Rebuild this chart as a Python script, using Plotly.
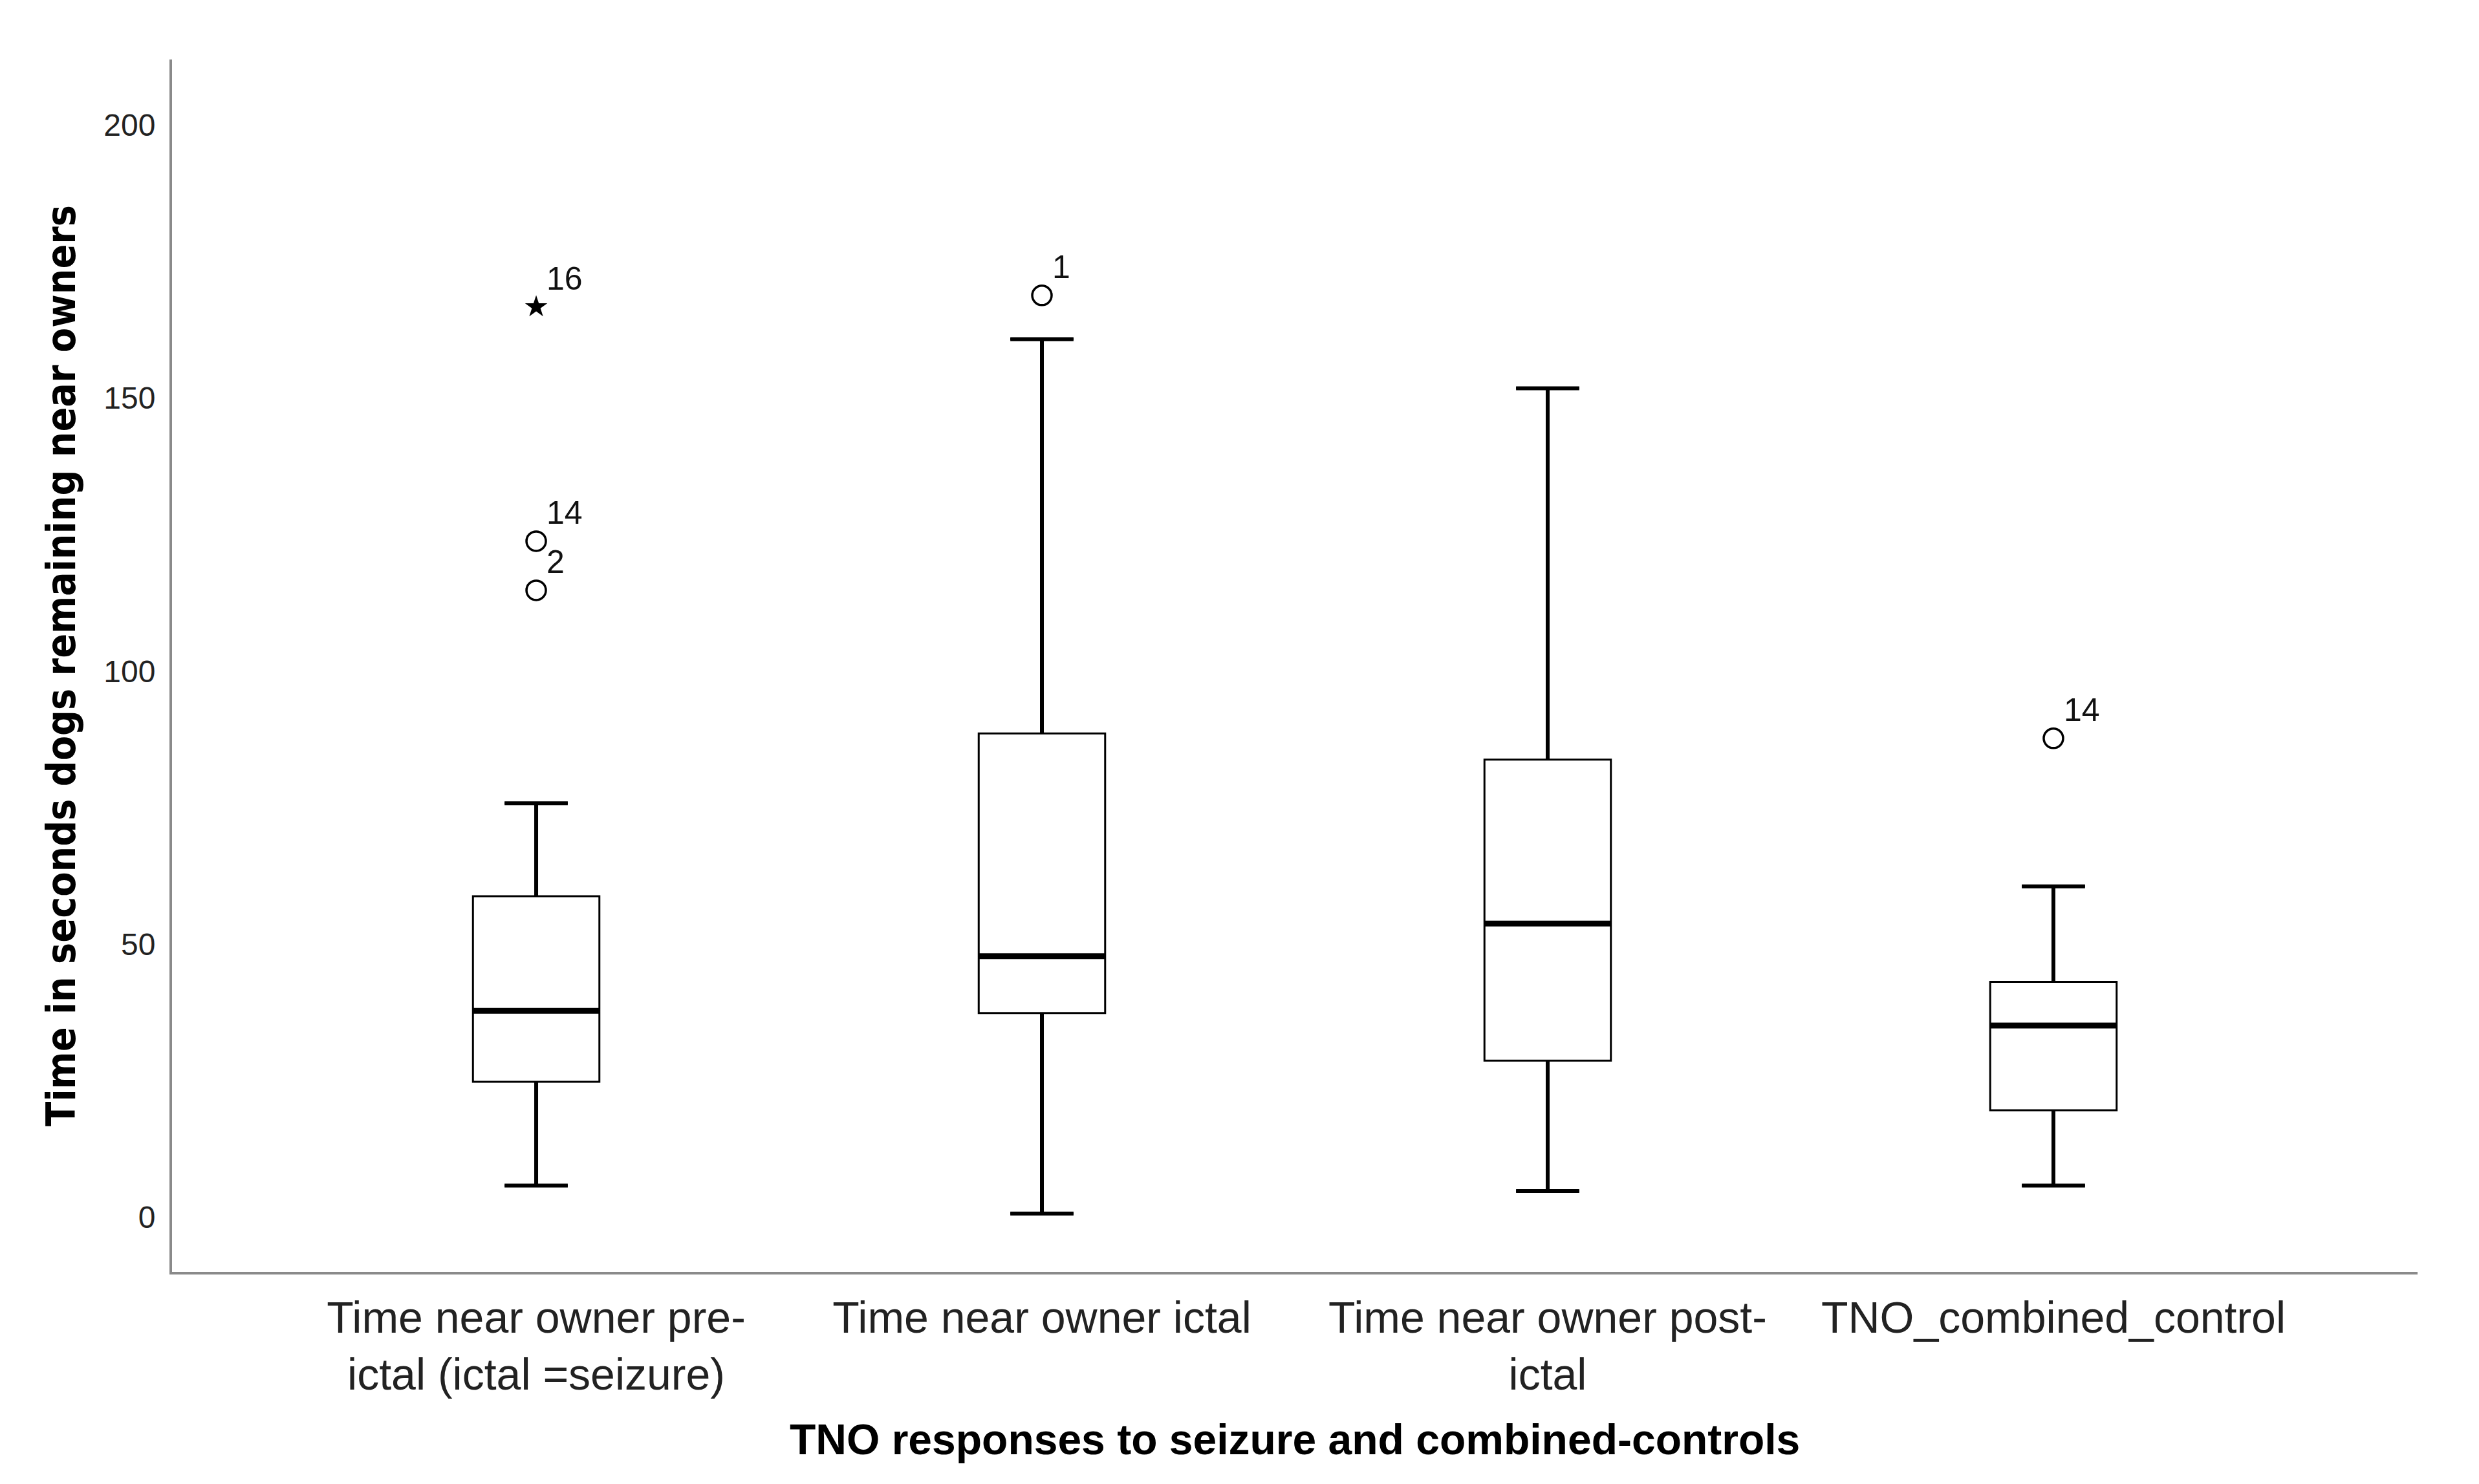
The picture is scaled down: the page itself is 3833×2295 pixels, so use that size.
import plotly.graph_objects as go

# Summary values (seconds)
categories = ['Time near owner pre-<br>ictal (ictal =seizure)',
              'Time near owner ictal',
              'Time near owner post-<br>ictal',
              'TNO_combined_control']
lower_whisker = [5.8, 0.7, 4.8, 5.8]
q1 = [24.8, 37.4, 28.7, 19.6]
median = [37.8, 47.8, 53.8, 35.1]
q3 = [58.8, 88.6, 83.8, 43.1]
upper_whisker = [75.8, 160.8, 151.8, 60.6]

# outliers: (category index, value, case label)
outlier_cat = [0, 0, 1, 3]
outlier_val = [123.8, 114.8, 168.8, 87.7]
outlier_lab = ['14', '2', '1', '14']

# extreme values (SPSS star)
extreme_cat = [0]
extreme_val = [166.7]
extreme_lab = ['16']

y_ticks = [0, 50, 100, 150, 200]

box_w = 0.25
cap_w = 0.125
xs = list(range(len(categories)))

fig = go.Figure()

fig.add_trace(go.Box(
    x=xs, q1=q1, median=median, q3=q3,
    lowerfence=lower_whisker, upperfence=upper_whisker,
    width=box_w, whiskerwidth=0.5,
    fillcolor='white', line=dict(color='black', width=3),
    boxpoints=False, showlegend=False, hoverinfo='skip'))

# thicker whiskers and caps
wx, wy = [], []
for i in xs:
    wx += [i, i, None, i - cap_w / 2, i + cap_w / 2, None,
           i, i, None, i - cap_w / 2, i + cap_w / 2, None]
    wy += [q3[i], upper_whisker[i], None, upper_whisker[i], upper_whisker[i], None,
           q1[i], lower_whisker[i], None, lower_whisker[i], lower_whisker[i], None]
fig.add_trace(go.Scatter(x=wx, y=wy, mode='lines',
                         line=dict(color='black', width=6),
                         showlegend=False, hoverinfo='skip'))

# thick median lines
mx, my = [], []
for i in xs:
    mx += [i - box_w / 2, i + box_w / 2, None]
    my += [median[i], median[i], None]
fig.add_trace(go.Scatter(x=mx, y=my, mode='lines',
                         line=dict(color='black', width=9),
                         showlegend=False, hoverinfo='skip'))

fig.add_trace(go.Scatter(x=outlier_cat, y=outlier_val, mode='markers',
                         marker=dict(symbol='circle-open', size=30,
                                     color='black', line=dict(width=3.5)),
                         showlegend=False, hoverinfo='skip'))
fig.add_trace(go.Scatter(x=extreme_cat, y=extreme_val, mode='markers',
                         marker=dict(symbol='star', size=26, color='black'),
                         showlegend=False, hoverinfo='skip'))

for cx, cy, lab in zip(outlier_cat + extreme_cat, outlier_val + extreme_val,
                       outlier_lab + extreme_lab):
    fig.add_annotation(x=cx, y=cy, text=lab, showarrow=False,
                       xanchor='left', yanchor='middle', xshift=14, yshift=44,
                       font=dict(family='Liberation Sans, Arial', size=50, color='#111'))

fig.add_annotation(xref='paper', yref='paper', x=-0.0495, y=0.5,
                   text='<b>Time in seconds dogs remaining near owners</b>',
                   textangle=-90, showarrow=False, xanchor='center', yanchor='middle',
                   font=dict(family='Liberation Sans Narrow, DejaVu Sans Condensed, sans-serif',
                             size=62, color='black'))
fig.add_annotation(xref='paper', yref='paper', x=0.5, y=-0.138,
                   text='<b>TNO responses to seizure and combined-controls</b>',
                   showarrow=False, xanchor='center', yanchor='middle',
                   font=dict(family='Liberation Sans, Arial', size=66, color='black'))

fig.update_layout(
    width=3833, height=2295,
    margin=dict(l=258, r=103, t=84, b=336),
    paper_bgcolor='white', plot_bgcolor='white',
    boxmode='overlay',
    font=dict(family='Liberation Sans, Arial', color='#222'),
)
fig.update_xaxes(range=[-0.72, 3.72], tickvals=xs, ticktext=categories,
                 showline=True, linecolor='#8a8a8a', linewidth=4,
                 showgrid=False, zeroline=False, ticks='',
                 tickfont=dict(size=68, color='#222'), ticklabelstandoff=8)
fig.update_yaxes(range=[-10, 212], tickvals=y_ticks,
                 showline=True, linecolor='#8a8a8a', linewidth=4,
                 showgrid=False, zeroline=False, ticks='',
                 tickfont=dict(size=48, color='#222'), ticklabelstandoff=12)

fig.write_html("out.html")
